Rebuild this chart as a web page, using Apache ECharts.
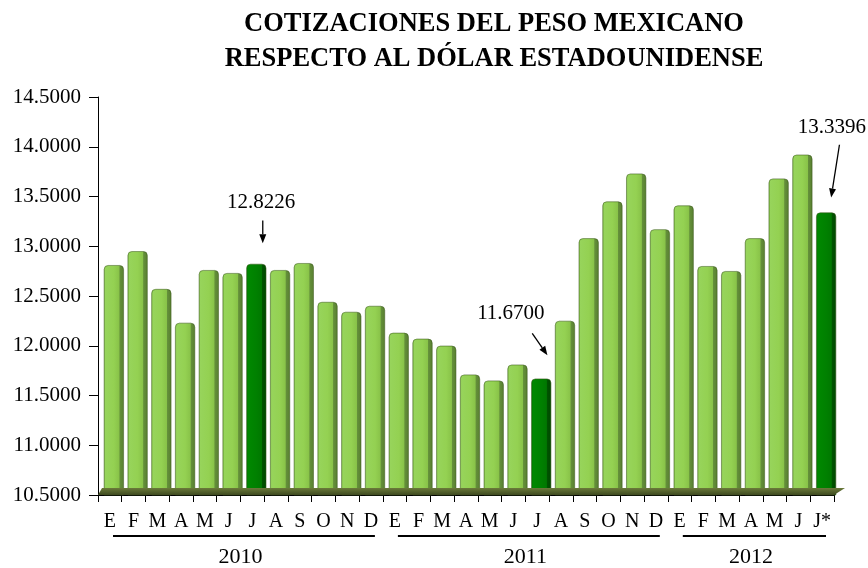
<!DOCTYPE html>
<html><head><meta charset="utf-8">
<script src="https://cdn.jsdelivr.net/npm/echarts@6/dist/echarts.min.js"></script>
<style>html,body{margin:0;padding:0;background:#fff}#c{width:868px;height:568px}</style>
</head><body><div id="c"></div>
<script>
// ---- data ----
const months2010 = ['E','F','M','A','M','J','J','A','S','O','N','D'];
const months2011 = ['E','F','M','A','M','J','J','A','S','O','N','D'];
const months2012 = ['E','F','M','A','M','J','J*'];
const values2010 = [12.81, 12.95, 12.57, 12.23, 12.76, 12.73, 12.8226, 12.76, 12.83, 12.44, 12.34, 12.40];
const values2011 = [12.13, 12.07, 12.00, 11.71, 11.65, 11.81, 11.6700, 12.25, 13.08, 13.45, 13.73, 13.17];
const values2012 = [13.41, 12.80, 12.75, 13.08, 13.68, 13.92, 13.3396];
const years = ['2010', '2011', '2012'];
const yearStart = [0, 12, 24];
const yearEnd = [11, 23, 30];
const highlighted = [6, 18, 30];
const annotationTexts = ['12.8226', '11.6700', '13.3396'];
const yMin = 10.5, yMax = 14.5, yStep = 0.5;

const categories = months2010.concat(months2011, months2012);
const values = values2010.concat(values2011, values2012);

const FONT = "'Liberation Serif', 'Times New Roman', serif";

const lightGrad = {type:'linear', x:0, y:0, x2:1, y2:0, colorStops:[
  {offset:0, color:'#7DB843'},{offset:0.08, color:'#97D45B'},{offset:0.5, color:'#94D152'},
  {offset:0.76, color:'#89C349'},{offset:0.8, color:'#64903A'},{offset:1, color:'#587E30'}]};
const darkGrad = {type:'linear', x:0, y:0, x2:1, y2:0, colorStops:[
  {offset:0, color:'#006A00'},{offset:0.08, color:'#008800'},{offset:0.5, color:'#008000'},
  {offset:0.76, color:'#007800'},{offset:0.8, color:'#005400'},{offset:1, color:'#004800'}]};

const barData = values.map((v, i) => ({
  value: v,
  itemStyle: { color: highlighted.includes(i) ? darkGrad : lightGrad }
}));

const chart = echarts.init(document.getElementById('c'), null, {renderer:'canvas'});
const option = {
  animation: false,
  backgroundColor: '#ffffff',
  title: {
    text: 'COTIZACIONES DEL PESO MEXICANO\nRESPECTO AL DÓLAR ESTADOUNIDENSE',
    left: 489, top: 2, textAlign: 'center',
    textStyle: { fontFamily: FONT, fontWeight: 'bold', fontSize: 26.5, lineHeight: 35, color: '#000' }
  },
  grid: [
    { left: 98, right: 34, top: 97, bottom: 73 },
    { left: 102, right: 30, top: 97, bottom: 73 }
  ],
  xAxis: [
    { type: 'category', gridIndex: 0, data: categories, boundaryGap: true,
      axisLine: { show: true, lineStyle: { color: '#000', width: 1 } },
      axisTick: { show: true, length: 7, lineStyle: { color: '#000' }, interval: 0 },
      axisLabel: { interval: 0, margin: 17, fontFamily: FONT, fontSize: 20, color: '#000' },
      splitLine: { show: false } },
    { type: 'category', gridIndex: 1, data: categories, show: false }
  ],
  yAxis: [
    { type: 'value', gridIndex: 0, min: yMin, max: yMax, interval: yStep,
      axisLine: { show: true, lineStyle: { color: '#000', width: 1 } },
      axisTick: { show: true, length: 9, lineStyle: { color: '#000' } },
      axisLabel: { margin: 17, fontFamily: FONT, fontSize: 21, color: '#000',
        formatter: v => v.toFixed(4) },
      splitLine: { show: false } },
    { type: 'value', gridIndex: 1, min: yMin, max: yMax, interval: yStep, show: false }
  ],
  series: [{
    type: 'bar', xAxisIndex: 1, yAxisIndex: 1, data: barData, barWidth: 20,
    itemStyle: { borderRadius: [4, 4, 0, 0], borderColor: 'rgba(60,90,30,0.5)', borderWidth: 0.6 },
    z: 2
  }]
};
chart.setOption(option);

// helpers using the library's own scales
function px(c, v) {
  const a = chart.convertToPixel({gridIndex: 0}, [0, v]);
  const b = chart.convertToPixel({gridIndex: 0}, [1, v]);
  return [a[0] + (b[0] - a[0]) * c, a[1]];
}
const graphics = [];

// floor strip
const fl = px(-0.5, yMin), fr = px(values.length - 0.5, yMin);
graphics.push({ type: 'polygon', z: 5, silent: true,
  shape: { points: [[fl[0], fl[1]], [fr[0], fr[1]], [fr[0] + 11, fr[1] - 7], [fl[0] + 4, fl[1] - 7]] },
  style: { fill: {type:'linear', x:0, y:0, x2:0, y2:1, colorStops:[{offset:0,color:'#6B7A3A'},{offset:1,color:'#3E4A20'}]} } });

// annotations: text position and arrow (category-fraction, value) relative to highlighted bars
const annText = [[6.37, 13.44], [16.89, 12.32], [30.41, 14.19]];
const annArrow = [[[6.44, 13.26], [6.44, 13.03]], [[17.79, 12.125], [18.43, 11.905]], [[30.73, 14.02], [30.38, 13.49]]];
annotationTexts.forEach((t, k) => {
  const p = px(annText[k][0], annText[k][1]);
  graphics.push({ type: 'text', z: 10, x: p[0], y: p[1],
    style: { text: t, fontFamily: FONT, fontSize: 21, fill: '#000', align: 'center', verticalAlign: 'middle' } });
  const s = px(annArrow[k][0][0], annArrow[k][0][1]);
  const e = px(annArrow[k][1][0], annArrow[k][1][1]);
  const dx = e[0] - s[0], dy = e[1] - s[1], L = Math.hypot(dx, dy);
  const ux = dx / L, uy = dy / L, nx = -uy, ny = ux;
  const hl = 9, hw = 3.5;
  const bx = e[0] - ux * hl, by = e[1] - uy * hl;
  graphics.push({ type: 'line', z: 10, shape: { x1: s[0], y1: s[1], x2: bx, y2: by },
    style: { stroke: '#000', lineWidth: 1.3 } });
  graphics.push({ type: 'polygon', z: 10,
    shape: { points: [[e[0], e[1]], [bx + nx * hw, by + ny * hw], [bx - nx * hw, by - ny * hw]] },
    style: { fill: '#000' } });
});

// year group lines and labels
years.forEach((y, k) => {
  const a = px(yearStart[k] - 0.5, yMin), b = px(yearEnd[k] + 0.5, yMin);
  const x1 = a[0] + 15, x2 = b[0] - 8;
  const ly = a[1] + 41;
  graphics.push({ type: 'line', z: 10, shape: { x1: x1, y1: ly, x2: x2, y2: ly },
    style: { stroke: '#000', lineWidth: 2 } });
  const c1 = px(yearStart[k], yMin)[0], c2 = px(yearEnd[k], yMin)[0];
  graphics.push({ type: 'text', z: 10, x: (c1 + c2) / 2, y: a[1] + 62,
    style: { text: y, fontFamily: FONT, fontSize: 22, fill: '#000', align: 'center', verticalAlign: 'middle' } });
});

chart.setOption({ graphic: graphics });
</script>
</body></html>
